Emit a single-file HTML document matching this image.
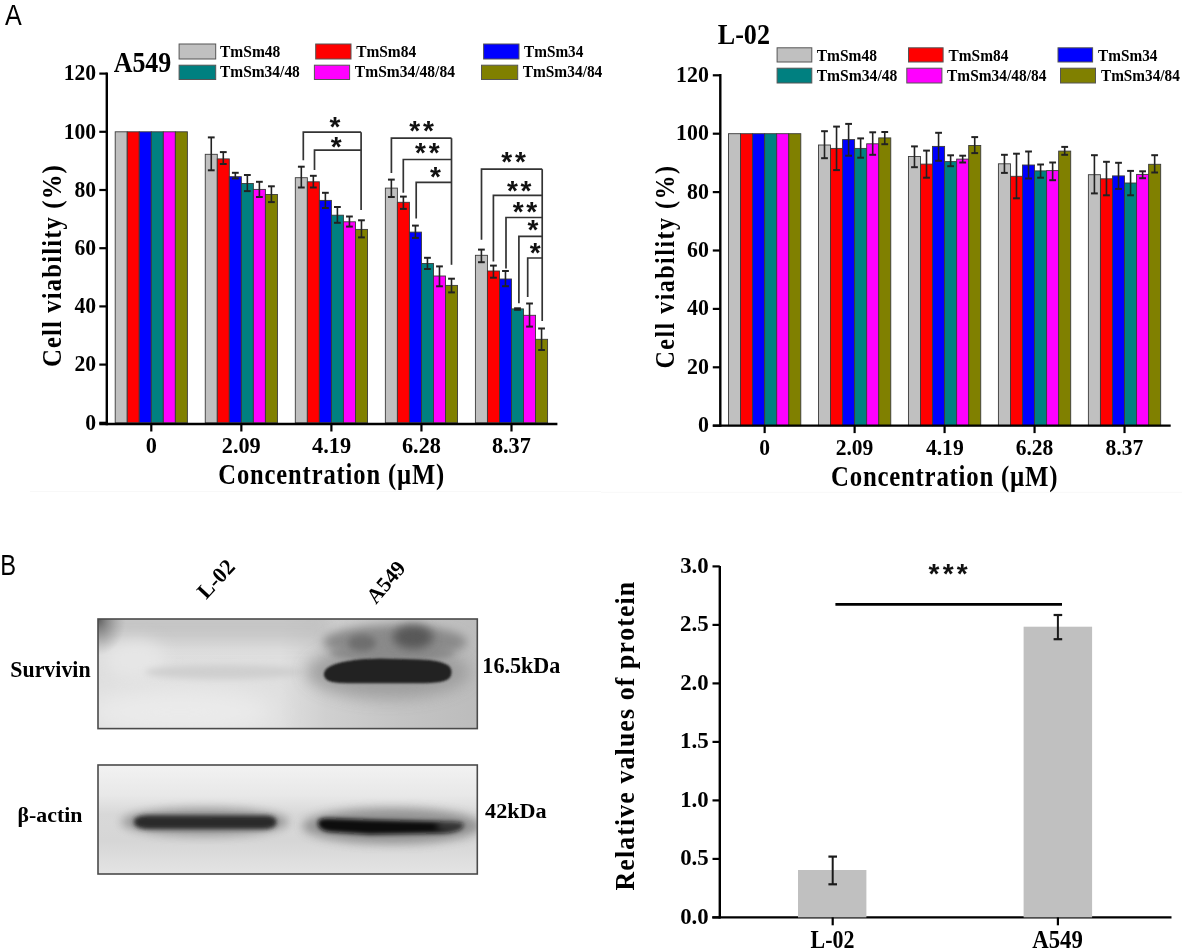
<!DOCTYPE html>
<html><head><meta charset="utf-8"><style>
html,body{margin:0;padding:0;background:#fff;width:1182px;height:950px;overflow:hidden}
svg{display:block;will-change:transform}
text{font-kerning:none}
</style></head><body>
<svg width="1182" height="950" viewBox="0 0 1182 950">
<rect width="1182" height="950" fill="#fff"/>

<defs>
 <filter id="f1" x="-50%" y="-50%" width="200%" height="200%"><feGaussianBlur stdDeviation="1.3"/></filter>
 <filter id="f2" x="-50%" y="-50%" width="200%" height="200%"><feGaussianBlur stdDeviation="2"/></filter>
 <linearGradient id="gb" x1="318" y1="0" x2="464" y2="0" gradientUnits="userSpaceOnUse"><stop offset="0" stop-color="#0a0a0a"/><stop offset="0.6" stop-color="#0d0d0d"/><stop offset="1" stop-color="#333"/></linearGradient>
 <radialGradient id="rg" cx="98" cy="619" r="28" gradientUnits="userSpaceOnUse" gradientTransform="translate(98 619) scale(1 1.3) translate(-98 -619)"><stop offset="0" stop-color="#555" stop-opacity="0.95"/><stop offset="0.5" stop-color="#777" stop-opacity="0.5"/><stop offset="1" stop-color="#999" stop-opacity="0"/></radialGradient>
 <filter id="f3" x="-50%" y="-50%" width="200%" height="200%"><feGaussianBlur stdDeviation="3"/></filter>
 <filter id="f5" x="-50%" y="-50%" width="200%" height="200%"><feGaussianBlur stdDeviation="5"/></filter>
 <filter id="f8" x="-50%" y="-50%" width="200%" height="200%"><feGaussianBlur stdDeviation="8"/></filter>
 <filter id="f12" x="-50%" y="-50%" width="200%" height="200%"><feGaussianBlur stdDeviation="12"/></filter>
 <clipPath id="c1"><rect x="98" y="619" width="379.3" height="109.6"/></clipPath>
 <clipPath id="c2"><rect x="98" y="765" width="379.3" height="109"/></clipPath>
 <linearGradient id="g1" x1="98" y1="0" x2="477" y2="0" gradientUnits="userSpaceOnUse">
  <stop offset="0" stop-color="#dedede"/><stop offset="0.48" stop-color="#dfdfdf"/><stop offset="0.6" stop-color="#d0d0d0"/><stop offset="0.8" stop-color="#c4c4c4"/><stop offset="1" stop-color="#bcbcbc"/>
 </linearGradient>
 <linearGradient id="g2" x1="0" y1="765" x2="0" y2="874" gradientUnits="userSpaceOnUse">
  <stop offset="0" stop-color="#f2f2f2"/><stop offset="0.28" stop-color="#e8e8e8"/><stop offset="0.45" stop-color="#d8d8d8"/><stop offset="0.7" stop-color="#d6d6d6"/><stop offset="0.85" stop-color="#dddddd"/><stop offset="1" stop-color="#e4e4e4"/>
 </linearGradient>
</defs>
<g clip-path="url(#c1)">
 <rect x="98" y="619" width="380" height="110" fill="url(#g1)"/>
 <rect x="90" y="608" width="240" height="34" fill="#bdbdbd" opacity="0.75" filter="url(#f8)"/>
 <ellipse cx="180" cy="712" rx="95" ry="24" fill="#ebebeb" filter="url(#f12)"/>
 <ellipse cx="135" cy="660" rx="30" ry="20" fill="#e6e6e6" filter="url(#f8)"/>
 <rect x="98" y="619" width="34" height="40" fill="url(#rg)"/>
 <ellipse cx="225" cy="672" rx="80" ry="7" fill="#cfcfcf" filter="url(#f3)"/>
 <ellipse cx="388" cy="672" rx="82" ry="27" fill="#989898" opacity="0.85" filter="url(#f8)"/>
 <ellipse cx="395" cy="642" rx="72" ry="17" fill="#8a8a8a" filter="url(#f5)"/>
 <ellipse cx="392" cy="653" rx="62" ry="7" fill="#8a8a8a" filter="url(#f3)"/>
 <ellipse cx="362" cy="643" rx="14" ry="8" fill="#6e6e6e" filter="url(#f3)"/>
 <ellipse cx="413" cy="637" rx="20" ry="12" fill="#585858" filter="url(#f5)"/>
 <path d="M324,674 C324,665 345,659 380,658.5 L420,659.5 C441,660.5 451.5,664 451.5,672 C451.5,680 445,683.2 420,683.2 L350,683.2 C331,683.2 324,681 324,674 Z" fill="#202020" filter="url(#f1)"/>
</g>
<rect x="98" y="619" width="379.3" height="109.6" fill="none" stroke="#4a4a4a" stroke-width="1.6"/>
<g clip-path="url(#c2)">
 <rect x="98" y="765" width="380" height="110" fill="url(#g2)"/>
 <ellipse cx="205" cy="822" rx="84" ry="14" fill="#8c8c8c" opacity="0.85" filter="url(#f5)"/>
 <ellipse cx="392" cy="826" rx="90" ry="18" fill="#888" opacity="0.85" filter="url(#f5)"/>
 <path d="M134,822 C134,816.5 141,815.3 151,815.3 L264,815.5 C273,815.5 276.5,818 276.5,822 C276.5,827 272,829.3 261,829.3 L151,829.3 C140,829.3 134,827 134,822 Z" fill="#2a2a2a" filter="url(#f2)"/>
 <path d="M318,823 C318,819 321,818.2 329,818.2 L370,819.8 L440,821.6 C457,822 463.5,822.5 463.5,825 C463.5,830 454,832.8 440,833.2 L370,834.4 L331,832 C322,831 318,828 318,823 Z" fill="#0e0e0e" filter="url(#f2)"/>
 <ellipse cx="452" cy="826" rx="16" ry="6" fill="#888" opacity="0.35" filter="url(#f3)"/>
</g>
<rect x="98" y="765" width="379.3" height="109" fill="none" stroke="#4a4a4a" stroke-width="1.6"/>

<line x1="30" y1="491.4" x2="601" y2="491.4" stroke="#f8f8f8" stroke-width="1"/>
<line x1="601" y1="492.3" x2="1182" y2="492.3" stroke="#f8f8f8" stroke-width="1"/>
<text transform="translate(5.00,24.80) scale(0.8747,1)" font-size="28.71" font-family="Liberation Sans, sans-serif" fill="#000">A</text>
<text transform="translate(0.16,574.90) scale(0.8226,1)" font-size="28.78" font-family="Liberation Sans, sans-serif" fill="#000">B</text>
<rect x="115.20" y="131.80" width="12.03" height="291.00" fill="#c0c0c0" stroke="#3a3a3a" stroke-width="0.9"/>
<rect x="127.23" y="131.80" width="12.03" height="291.00" fill="#ff0000" stroke="#3a3a3a" stroke-width="0.9"/>
<rect x="139.26" y="131.80" width="12.03" height="291.00" fill="#0000ff" stroke="#3a3a3a" stroke-width="0.9"/>
<rect x="151.29" y="131.80" width="12.03" height="291.00" fill="#008080" stroke="#3a3a3a" stroke-width="0.9"/>
<rect x="163.32" y="131.80" width="12.03" height="291.00" fill="#ff00ff" stroke="#3a3a3a" stroke-width="0.9"/>
<rect x="175.35" y="131.80" width="12.03" height="291.00" fill="#808000" stroke="#3a3a3a" stroke-width="0.9"/>
<rect x="205.25" y="154.30" width="12.03" height="268.50" fill="#c0c0c0" stroke="#3a3a3a" stroke-width="0.9"/>
<rect x="217.28" y="158.90" width="12.03" height="263.90" fill="#ff0000" stroke="#3a3a3a" stroke-width="0.9"/>
<rect x="229.31" y="176.70" width="12.03" height="246.10" fill="#0000ff" stroke="#3a3a3a" stroke-width="0.9"/>
<rect x="241.34" y="183.50" width="12.03" height="239.30" fill="#008080" stroke="#3a3a3a" stroke-width="0.9"/>
<rect x="253.37" y="189.40" width="12.03" height="233.40" fill="#ff00ff" stroke="#3a3a3a" stroke-width="0.9"/>
<rect x="265.40" y="194.50" width="12.03" height="228.30" fill="#808000" stroke="#3a3a3a" stroke-width="0.9"/>
<rect x="295.30" y="177.70" width="12.03" height="245.10" fill="#c0c0c0" stroke="#3a3a3a" stroke-width="0.9"/>
<rect x="307.33" y="181.80" width="12.03" height="241.00" fill="#ff0000" stroke="#3a3a3a" stroke-width="0.9"/>
<rect x="319.36" y="200.40" width="12.03" height="222.40" fill="#0000ff" stroke="#3a3a3a" stroke-width="0.9"/>
<rect x="331.39" y="215.20" width="12.03" height="207.60" fill="#008080" stroke="#3a3a3a" stroke-width="0.9"/>
<rect x="343.42" y="221.80" width="12.03" height="201.00" fill="#ff00ff" stroke="#3a3a3a" stroke-width="0.9"/>
<rect x="355.45" y="229.40" width="12.03" height="193.40" fill="#808000" stroke="#3a3a3a" stroke-width="0.9"/>
<rect x="385.35" y="188.10" width="12.03" height="234.70" fill="#c0c0c0" stroke="#3a3a3a" stroke-width="0.9"/>
<rect x="397.38" y="202.30" width="12.03" height="220.50" fill="#ff0000" stroke="#3a3a3a" stroke-width="0.9"/>
<rect x="409.41" y="232.10" width="12.03" height="190.70" fill="#0000ff" stroke="#3a3a3a" stroke-width="0.9"/>
<rect x="421.44" y="263.50" width="12.03" height="159.30" fill="#008080" stroke="#3a3a3a" stroke-width="0.9"/>
<rect x="433.47" y="276.00" width="12.03" height="146.80" fill="#ff00ff" stroke="#3a3a3a" stroke-width="0.9"/>
<rect x="445.50" y="285.40" width="12.03" height="137.40" fill="#808000" stroke="#3a3a3a" stroke-width="0.9"/>
<rect x="475.40" y="255.30" width="12.03" height="167.50" fill="#c0c0c0" stroke="#3a3a3a" stroke-width="0.9"/>
<rect x="487.43" y="271.00" width="12.03" height="151.80" fill="#ff0000" stroke="#3a3a3a" stroke-width="0.9"/>
<rect x="499.46" y="279.00" width="12.03" height="143.80" fill="#0000ff" stroke="#3a3a3a" stroke-width="0.9"/>
<rect x="511.49" y="308.90" width="12.03" height="113.90" fill="#008080" stroke="#3a3a3a" stroke-width="0.9"/>
<rect x="523.52" y="315.30" width="12.03" height="107.50" fill="#ff00ff" stroke="#3a3a3a" stroke-width="0.9"/>
<rect x="535.55" y="339.30" width="12.03" height="83.50" fill="#808000" stroke="#3a3a3a" stroke-width="0.9"/>
<line x1="211.26" y1="137.40" x2="211.26" y2="170.30" stroke="#222" stroke-width="1.6" stroke-linecap="butt"/>
<line x1="207.86" y1="137.40" x2="214.66" y2="137.40" stroke="#222" stroke-width="2.0" stroke-linecap="butt"/>
<line x1="207.86" y1="170.30" x2="214.66" y2="170.30" stroke="#222" stroke-width="2.0" stroke-linecap="butt"/>
<line x1="223.29" y1="152.10" x2="223.29" y2="164.00" stroke="#222" stroke-width="1.6" stroke-linecap="butt"/>
<line x1="219.89" y1="152.10" x2="226.69" y2="152.10" stroke="#222" stroke-width="2.0" stroke-linecap="butt"/>
<line x1="219.89" y1="164.00" x2="226.69" y2="164.00" stroke="#222" stroke-width="2.0" stroke-linecap="butt"/>
<line x1="235.32" y1="172.80" x2="235.32" y2="178.40" stroke="#222" stroke-width="1.6" stroke-linecap="butt"/>
<line x1="231.92" y1="172.80" x2="238.72" y2="172.80" stroke="#222" stroke-width="2.0" stroke-linecap="butt"/>
<line x1="231.92" y1="178.40" x2="238.72" y2="178.40" stroke="#222" stroke-width="2.0" stroke-linecap="butt"/>
<line x1="247.35" y1="175.00" x2="247.35" y2="191.10" stroke="#222" stroke-width="1.6" stroke-linecap="butt"/>
<line x1="243.95" y1="175.00" x2="250.75" y2="175.00" stroke="#222" stroke-width="2.0" stroke-linecap="butt"/>
<line x1="243.95" y1="191.10" x2="250.75" y2="191.10" stroke="#222" stroke-width="2.0" stroke-linecap="butt"/>
<line x1="259.38" y1="181.80" x2="259.38" y2="197.00" stroke="#222" stroke-width="1.6" stroke-linecap="butt"/>
<line x1="255.98" y1="181.80" x2="262.78" y2="181.80" stroke="#222" stroke-width="2.0" stroke-linecap="butt"/>
<line x1="255.98" y1="197.00" x2="262.78" y2="197.00" stroke="#222" stroke-width="2.0" stroke-linecap="butt"/>
<line x1="271.41" y1="186.30" x2="271.41" y2="202.10" stroke="#222" stroke-width="1.6" stroke-linecap="butt"/>
<line x1="268.01" y1="186.30" x2="274.81" y2="186.30" stroke="#222" stroke-width="2.0" stroke-linecap="butt"/>
<line x1="268.01" y1="202.10" x2="274.81" y2="202.10" stroke="#222" stroke-width="2.0" stroke-linecap="butt"/>
<line x1="301.31" y1="166.70" x2="301.31" y2="187.50" stroke="#222" stroke-width="1.6" stroke-linecap="butt"/>
<line x1="297.92" y1="166.70" x2="304.71" y2="166.70" stroke="#222" stroke-width="2.0" stroke-linecap="butt"/>
<line x1="297.92" y1="187.50" x2="304.71" y2="187.50" stroke="#222" stroke-width="2.0" stroke-linecap="butt"/>
<line x1="313.34" y1="175.80" x2="313.34" y2="187.50" stroke="#222" stroke-width="1.6" stroke-linecap="butt"/>
<line x1="309.94" y1="175.80" x2="316.74" y2="175.80" stroke="#222" stroke-width="2.0" stroke-linecap="butt"/>
<line x1="309.94" y1="187.50" x2="316.74" y2="187.50" stroke="#222" stroke-width="2.0" stroke-linecap="butt"/>
<line x1="325.38" y1="192.80" x2="325.38" y2="208.00" stroke="#222" stroke-width="1.6" stroke-linecap="butt"/>
<line x1="321.98" y1="192.80" x2="328.77" y2="192.80" stroke="#222" stroke-width="2.0" stroke-linecap="butt"/>
<line x1="321.98" y1="208.00" x2="328.77" y2="208.00" stroke="#222" stroke-width="2.0" stroke-linecap="butt"/>
<line x1="337.40" y1="207.00" x2="337.40" y2="222.80" stroke="#222" stroke-width="1.6" stroke-linecap="butt"/>
<line x1="334.00" y1="207.00" x2="340.80" y2="207.00" stroke="#222" stroke-width="2.0" stroke-linecap="butt"/>
<line x1="334.00" y1="222.80" x2="340.80" y2="222.80" stroke="#222" stroke-width="2.0" stroke-linecap="butt"/>
<line x1="349.44" y1="216.50" x2="349.44" y2="226.60" stroke="#222" stroke-width="1.6" stroke-linecap="butt"/>
<line x1="346.04" y1="216.50" x2="352.83" y2="216.50" stroke="#222" stroke-width="2.0" stroke-linecap="butt"/>
<line x1="346.04" y1="226.60" x2="352.83" y2="226.60" stroke="#222" stroke-width="2.0" stroke-linecap="butt"/>
<line x1="361.46" y1="220.30" x2="361.46" y2="237.40" stroke="#222" stroke-width="1.6" stroke-linecap="butt"/>
<line x1="358.06" y1="220.30" x2="364.86" y2="220.30" stroke="#222" stroke-width="2.0" stroke-linecap="butt"/>
<line x1="358.06" y1="237.40" x2="364.86" y2="237.40" stroke="#222" stroke-width="2.0" stroke-linecap="butt"/>
<line x1="391.36" y1="179.60" x2="391.36" y2="197.00" stroke="#222" stroke-width="1.6" stroke-linecap="butt"/>
<line x1="387.96" y1="179.60" x2="394.76" y2="179.60" stroke="#222" stroke-width="2.0" stroke-linecap="butt"/>
<line x1="387.96" y1="197.00" x2="394.76" y2="197.00" stroke="#222" stroke-width="2.0" stroke-linecap="butt"/>
<line x1="403.39" y1="196.60" x2="403.39" y2="208.90" stroke="#222" stroke-width="1.6" stroke-linecap="butt"/>
<line x1="399.99" y1="196.60" x2="406.79" y2="196.60" stroke="#222" stroke-width="2.0" stroke-linecap="butt"/>
<line x1="399.99" y1="208.90" x2="406.79" y2="208.90" stroke="#222" stroke-width="2.0" stroke-linecap="butt"/>
<line x1="415.42" y1="225.60" x2="415.42" y2="237.90" stroke="#222" stroke-width="1.6" stroke-linecap="butt"/>
<line x1="412.02" y1="225.60" x2="418.82" y2="225.60" stroke="#222" stroke-width="2.0" stroke-linecap="butt"/>
<line x1="412.02" y1="237.90" x2="418.82" y2="237.90" stroke="#222" stroke-width="2.0" stroke-linecap="butt"/>
<line x1="427.45" y1="257.80" x2="427.45" y2="269.00" stroke="#222" stroke-width="1.6" stroke-linecap="butt"/>
<line x1="424.05" y1="257.80" x2="430.85" y2="257.80" stroke="#222" stroke-width="2.0" stroke-linecap="butt"/>
<line x1="424.05" y1="269.00" x2="430.85" y2="269.00" stroke="#222" stroke-width="2.0" stroke-linecap="butt"/>
<line x1="439.48" y1="266.40" x2="439.48" y2="286.30" stroke="#222" stroke-width="1.6" stroke-linecap="butt"/>
<line x1="436.08" y1="266.40" x2="442.88" y2="266.40" stroke="#222" stroke-width="2.0" stroke-linecap="butt"/>
<line x1="436.08" y1="286.30" x2="442.88" y2="286.30" stroke="#222" stroke-width="2.0" stroke-linecap="butt"/>
<line x1="451.51" y1="278.70" x2="451.51" y2="292.40" stroke="#222" stroke-width="1.6" stroke-linecap="butt"/>
<line x1="448.11" y1="278.70" x2="454.91" y2="278.70" stroke="#222" stroke-width="2.0" stroke-linecap="butt"/>
<line x1="448.11" y1="292.40" x2="454.91" y2="292.40" stroke="#222" stroke-width="2.0" stroke-linecap="butt"/>
<line x1="481.41" y1="249.60" x2="481.41" y2="262.20" stroke="#222" stroke-width="1.6" stroke-linecap="butt"/>
<line x1="478.01" y1="249.60" x2="484.81" y2="249.60" stroke="#222" stroke-width="2.0" stroke-linecap="butt"/>
<line x1="478.01" y1="262.20" x2="484.81" y2="262.20" stroke="#222" stroke-width="2.0" stroke-linecap="butt"/>
<line x1="493.44" y1="265.60" x2="493.44" y2="277.70" stroke="#222" stroke-width="1.6" stroke-linecap="butt"/>
<line x1="490.04" y1="265.60" x2="496.84" y2="265.60" stroke="#222" stroke-width="2.0" stroke-linecap="butt"/>
<line x1="490.04" y1="277.70" x2="496.84" y2="277.70" stroke="#222" stroke-width="2.0" stroke-linecap="butt"/>
<line x1="505.47" y1="271.00" x2="505.47" y2="286.20" stroke="#222" stroke-width="1.6" stroke-linecap="butt"/>
<line x1="502.07" y1="271.00" x2="508.87" y2="271.00" stroke="#222" stroke-width="2.0" stroke-linecap="butt"/>
<line x1="502.07" y1="286.20" x2="508.87" y2="286.20" stroke="#222" stroke-width="2.0" stroke-linecap="butt"/>
<line x1="517.50" y1="308.30" x2="517.50" y2="309.80" stroke="#222" stroke-width="1.6" stroke-linecap="butt"/>
<line x1="514.11" y1="308.30" x2="520.90" y2="308.30" stroke="#222" stroke-width="2.0" stroke-linecap="butt"/>
<line x1="514.11" y1="309.80" x2="520.90" y2="309.80" stroke="#222" stroke-width="2.0" stroke-linecap="butt"/>
<line x1="529.53" y1="303.50" x2="529.53" y2="326.60" stroke="#222" stroke-width="1.6" stroke-linecap="butt"/>
<line x1="526.13" y1="303.50" x2="532.93" y2="303.50" stroke="#222" stroke-width="2.0" stroke-linecap="butt"/>
<line x1="526.13" y1="326.60" x2="532.93" y2="326.60" stroke="#222" stroke-width="2.0" stroke-linecap="butt"/>
<line x1="541.56" y1="328.50" x2="541.56" y2="350.00" stroke="#222" stroke-width="1.6" stroke-linecap="butt"/>
<line x1="538.16" y1="328.50" x2="544.96" y2="328.50" stroke="#222" stroke-width="2.0" stroke-linecap="butt"/>
<line x1="538.16" y1="350.00" x2="544.96" y2="350.00" stroke="#222" stroke-width="2.0" stroke-linecap="butt"/>
<line x1="106.80" y1="72.60" x2="106.80" y2="425.20" stroke="#000" stroke-width="2.4" stroke-linecap="butt"/>
<line x1="99.30" y1="424.00" x2="557.40" y2="424.00" stroke="#000" stroke-width="2.4" stroke-linecap="butt"/>
<line x1="99.30" y1="422.80" x2="106.80" y2="422.80" stroke="#000" stroke-width="2.2" stroke-linecap="butt"/>
<line x1="99.30" y1="364.60" x2="106.80" y2="364.60" stroke="#000" stroke-width="2.2" stroke-linecap="butt"/>
<line x1="99.30" y1="306.40" x2="106.80" y2="306.40" stroke="#000" stroke-width="2.2" stroke-linecap="butt"/>
<line x1="99.30" y1="248.20" x2="106.80" y2="248.20" stroke="#000" stroke-width="2.2" stroke-linecap="butt"/>
<line x1="99.30" y1="190.00" x2="106.80" y2="190.00" stroke="#000" stroke-width="2.2" stroke-linecap="butt"/>
<line x1="99.30" y1="131.80" x2="106.80" y2="131.80" stroke="#000" stroke-width="2.2" stroke-linecap="butt"/>
<line x1="99.30" y1="73.60" x2="106.80" y2="73.60" stroke="#000" stroke-width="2.2" stroke-linecap="butt"/>
<line x1="151.29" y1="424.00" x2="151.29" y2="431.50" stroke="#000" stroke-width="2.2" stroke-linecap="butt"/>
<line x1="241.34" y1="424.00" x2="241.34" y2="431.50" stroke="#000" stroke-width="2.2" stroke-linecap="butt"/>
<line x1="331.39" y1="424.00" x2="331.39" y2="431.50" stroke="#000" stroke-width="2.2" stroke-linecap="butt"/>
<line x1="421.44" y1="424.00" x2="421.44" y2="431.50" stroke="#000" stroke-width="2.2" stroke-linecap="butt"/>
<line x1="511.49" y1="424.00" x2="511.49" y2="431.50" stroke="#000" stroke-width="2.2" stroke-linecap="butt"/>
<text transform="translate(85.30,429.65) scale(0.9700,1)" font-size="22.33" font-family="Liberation Serif, serif" font-weight="bold" fill="#000">0</text>
<text transform="translate(74.47,371.45) scale(0.9700,1)" font-size="22.33" font-family="Liberation Serif, serif" font-weight="bold" fill="#000">20</text>
<text transform="translate(74.47,313.25) scale(0.9700,1)" font-size="22.33" font-family="Liberation Serif, serif" font-weight="bold" fill="#000">40</text>
<text transform="translate(74.47,255.05) scale(0.9700,1)" font-size="22.33" font-family="Liberation Serif, serif" font-weight="bold" fill="#000">60</text>
<text transform="translate(74.47,196.85) scale(0.9700,1)" font-size="22.33" font-family="Liberation Serif, serif" font-weight="bold" fill="#000">80</text>
<text transform="translate(63.64,138.65) scale(0.9700,1)" font-size="22.33" font-family="Liberation Serif, serif" font-weight="bold" fill="#000">100</text>
<text transform="translate(63.64,80.45) scale(0.9700,1)" font-size="22.33" font-family="Liberation Serif, serif" font-weight="bold" fill="#000">120</text>
<text transform="translate(145.72,453.00) scale(0.9750,1)" font-size="22.86" font-family="Liberation Serif, serif" font-weight="bold" fill="#000">0</text>
<text transform="translate(221.78,453.00) scale(0.9750,1)" font-size="22.86" font-family="Liberation Serif, serif" font-weight="bold" fill="#000">2.09</text>
<text transform="translate(312.06,453.00) scale(0.9750,1)" font-size="22.96" font-family="Liberation Serif, serif" font-weight="bold" fill="#000">4.19</text>
<text transform="translate(401.93,453.00) scale(0.9750,1)" font-size="22.86" font-family="Liberation Serif, serif" font-weight="bold" fill="#000">6.28</text>
<text transform="translate(491.89,453.00) scale(0.9750,1)" font-size="22.86" font-family="Liberation Serif, serif" font-weight="bold" fill="#000">8.37</text>
<text transform="translate(218.30,484.10) scale(0.8600,1)" font-size="28.55" font-family="Liberation Serif, serif" font-weight="bold" fill="#000" letter-spacing="1.017">Concentration (µM)</text>
<text transform="translate(61.20,367.01) rotate(-90) scale(0.8800,1)" font-size="28.10" font-family="Liberation Serif, serif" font-weight="bold" letter-spacing="1.285">Cell viability (%)</text>
<text transform="translate(113.65,71.80) scale(0.9095,1)" font-size="28.55" font-family="Liberation Serif, serif" font-weight="bold" fill="#000">A549</text>
<rect x="179.10" y="44.00" width="36.60" height="15.00" fill="#c0c0c0" stroke="#555" stroke-width="1.0"/>
<text transform="translate(219.96,56.80) scale(0.9314,1)" font-size="16.69" font-family="Liberation Serif, serif" font-weight="bold" fill="#000">TmSm48</text>
<rect x="315.70" y="44.00" width="35.30" height="15.00" fill="#ff0000" stroke="#555" stroke-width="1.0"/>
<text transform="translate(356.16,56.80) scale(0.9247,1)" font-size="16.69" font-family="Liberation Serif, serif" font-weight="bold" fill="#000">TmSm84</text>
<rect x="483.60" y="44.00" width="35.40" height="15.00" fill="#0000ff" stroke="#555" stroke-width="1.0"/>
<text transform="translate(523.96,56.80) scale(0.9129,1)" font-size="16.76" font-family="Liberation Serif, serif" font-weight="bold" fill="#000">TmSm34</text>
<rect x="179.10" y="65.20" width="36.60" height="14.30" fill="#008080" stroke="#555" stroke-width="1.0"/>
<text transform="translate(219.96,77.40) scale(0.9107,1)" font-size="16.99" font-family="Liberation Serif, serif" font-weight="bold" fill="#000">TmSm34/48</text>
<rect x="314.40" y="65.20" width="35.20" height="14.30" fill="#ff00ff" stroke="#555" stroke-width="1.0"/>
<text transform="translate(354.86,77.40) scale(0.9144,1)" font-size="16.99" font-family="Liberation Serif, serif" font-weight="bold" fill="#000">TmSm34/48/84</text>
<rect x="481.50" y="65.20" width="36.20" height="14.30" fill="#808000" stroke="#555" stroke-width="1.0"/>
<text transform="translate(522.66,77.40) scale(0.9081,1)" font-size="16.99" font-family="Liberation Serif, serif" font-weight="bold" fill="#000">TmSm34/84</text>
<polyline points="303.30,160.20 303.30,132.20 361.10,132.20" fill="none" stroke="#333" stroke-width="1.7"/>
<polyline points="314.50,170.10 314.50,150.20 361.10,150.20" fill="none" stroke="#333" stroke-width="1.7"/>
<line x1="361.10" y1="132.20" x2="361.10" y2="209.90" stroke="#333" stroke-width="1.7" stroke-linecap="butt"/>
<text x="329.52" y="135.85" font-size="28.0" font-family="Liberation Sans, sans-serif" font-weight="bold" fill="#111">*</text>
<text x="330.82" y="155.75" font-size="28.0" font-family="Liberation Sans, sans-serif" font-weight="bold" fill="#111">*</text>
<polyline points="391.40,172.90 391.40,138.20 451.50,138.20" fill="none" stroke="#333" stroke-width="1.7"/>
<polyline points="403.30,192.80 403.30,159.50 451.50,159.50" fill="none" stroke="#333" stroke-width="1.7"/>
<polyline points="416.20,218.40 416.20,182.30 451.50,182.30" fill="none" stroke="#333" stroke-width="1.7"/>
<line x1="451.50" y1="138.20" x2="451.50" y2="264.80" stroke="#333" stroke-width="1.7" stroke-linecap="butt"/>
<text x="409.22" y="140.05" font-size="28.0" font-family="Liberation Sans, sans-serif" font-weight="bold" fill="#111">*</text>
<text x="422.92" y="140.05" font-size="28.0" font-family="Liberation Sans, sans-serif" font-weight="bold" fill="#111">*</text>
<text x="415.12" y="161.85" font-size="28.0" font-family="Liberation Sans, sans-serif" font-weight="bold" fill="#111">*</text>
<text x="428.82" y="161.85" font-size="28.0" font-family="Liberation Sans, sans-serif" font-weight="bold" fill="#111">*</text>
<text x="429.92" y="186.15" font-size="28.0" font-family="Liberation Sans, sans-serif" font-weight="bold" fill="#111">*</text>
<polyline points="481.50,239.70 481.50,169.20 542.20,169.20" fill="none" stroke="#333" stroke-width="1.7"/>
<polyline points="493.40,261.60 493.40,195.40 542.20,195.40" fill="none" stroke="#333" stroke-width="1.7"/>
<polyline points="506.00,268.50 506.00,217.50 542.20,217.50" fill="none" stroke="#333" stroke-width="1.7"/>
<polyline points="518.90,303.30 518.90,236.30 542.20,236.30" fill="none" stroke="#333" stroke-width="1.7"/>
<polyline points="527.70,297.00 527.70,258.00 542.20,258.00" fill="none" stroke="#333" stroke-width="1.7"/>
<line x1="542.20" y1="169.20" x2="542.20" y2="321.00" stroke="#333" stroke-width="1.7" stroke-linecap="butt"/>
<text x="501.32" y="171.05" font-size="28.0" font-family="Liberation Sans, sans-serif" font-weight="bold" fill="#111">*</text>
<text x="514.92" y="171.05" font-size="28.0" font-family="Liberation Sans, sans-serif" font-weight="bold" fill="#111">*</text>
<text x="507.02" y="199.65" font-size="28.0" font-family="Liberation Sans, sans-serif" font-weight="bold" fill="#111">*</text>
<text x="520.62" y="199.65" font-size="28.0" font-family="Liberation Sans, sans-serif" font-weight="bold" fill="#111">*</text>
<text x="512.72" y="221.45" font-size="28.0" font-family="Liberation Sans, sans-serif" font-weight="bold" fill="#111">*</text>
<text x="526.32" y="221.45" font-size="28.0" font-family="Liberation Sans, sans-serif" font-weight="bold" fill="#111">*</text>
<text x="527.62" y="239.15" font-size="28.0" font-family="Liberation Sans, sans-serif" font-weight="bold" fill="#111">*</text>
<text x="529.72" y="262.15" font-size="28.0" font-family="Liberation Sans, sans-serif" font-weight="bold" fill="#111">*</text>
<rect x="728.50" y="133.70" width="12.05" height="292.00" fill="#c0c0c0" stroke="#3a3a3a" stroke-width="0.9"/>
<rect x="740.55" y="133.70" width="12.05" height="292.00" fill="#ff0000" stroke="#3a3a3a" stroke-width="0.9"/>
<rect x="752.60" y="133.70" width="12.05" height="292.00" fill="#0000ff" stroke="#3a3a3a" stroke-width="0.9"/>
<rect x="764.65" y="133.70" width="12.05" height="292.00" fill="#008080" stroke="#3a3a3a" stroke-width="0.9"/>
<rect x="776.70" y="133.70" width="12.05" height="292.00" fill="#ff00ff" stroke="#3a3a3a" stroke-width="0.9"/>
<rect x="788.75" y="133.70" width="12.05" height="292.00" fill="#808000" stroke="#3a3a3a" stroke-width="0.9"/>
<rect x="818.47" y="145.00" width="12.05" height="280.70" fill="#c0c0c0" stroke="#3a3a3a" stroke-width="0.9"/>
<rect x="830.52" y="148.40" width="12.05" height="277.30" fill="#ff0000" stroke="#3a3a3a" stroke-width="0.9"/>
<rect x="842.57" y="139.60" width="12.05" height="286.10" fill="#0000ff" stroke="#3a3a3a" stroke-width="0.9"/>
<rect x="854.62" y="148.40" width="12.05" height="277.30" fill="#008080" stroke="#3a3a3a" stroke-width="0.9"/>
<rect x="866.67" y="143.80" width="12.05" height="281.90" fill="#ff00ff" stroke="#3a3a3a" stroke-width="0.9"/>
<rect x="878.72" y="137.90" width="12.05" height="287.80" fill="#808000" stroke="#3a3a3a" stroke-width="0.9"/>
<rect x="908.44" y="156.50" width="12.05" height="269.20" fill="#c0c0c0" stroke="#3a3a3a" stroke-width="0.9"/>
<rect x="920.49" y="164.10" width="12.05" height="261.60" fill="#ff0000" stroke="#3a3a3a" stroke-width="0.9"/>
<rect x="932.54" y="146.40" width="12.05" height="279.30" fill="#0000ff" stroke="#3a3a3a" stroke-width="0.9"/>
<rect x="944.59" y="161.60" width="12.05" height="264.10" fill="#008080" stroke="#3a3a3a" stroke-width="0.9"/>
<rect x="956.64" y="159.10" width="12.05" height="266.60" fill="#ff00ff" stroke="#3a3a3a" stroke-width="0.9"/>
<rect x="968.69" y="145.50" width="12.05" height="280.20" fill="#808000" stroke="#3a3a3a" stroke-width="0.9"/>
<rect x="998.41" y="163.80" width="12.05" height="261.90" fill="#c0c0c0" stroke="#3a3a3a" stroke-width="0.9"/>
<rect x="1010.46" y="176.30" width="12.05" height="249.40" fill="#ff0000" stroke="#3a3a3a" stroke-width="0.9"/>
<rect x="1022.51" y="165.00" width="12.05" height="260.70" fill="#0000ff" stroke="#3a3a3a" stroke-width="0.9"/>
<rect x="1034.56" y="170.90" width="12.05" height="254.80" fill="#008080" stroke="#3a3a3a" stroke-width="0.9"/>
<rect x="1046.61" y="170.60" width="12.05" height="255.10" fill="#ff00ff" stroke="#3a3a3a" stroke-width="0.9"/>
<rect x="1058.66" y="151.10" width="12.05" height="274.60" fill="#808000" stroke="#3a3a3a" stroke-width="0.9"/>
<rect x="1088.38" y="174.70" width="12.05" height="251.00" fill="#c0c0c0" stroke="#3a3a3a" stroke-width="0.9"/>
<rect x="1100.43" y="178.80" width="12.05" height="246.90" fill="#ff0000" stroke="#3a3a3a" stroke-width="0.9"/>
<rect x="1112.48" y="175.90" width="12.05" height="249.80" fill="#0000ff" stroke="#3a3a3a" stroke-width="0.9"/>
<rect x="1124.53" y="183.00" width="12.05" height="242.70" fill="#008080" stroke="#3a3a3a" stroke-width="0.9"/>
<rect x="1136.58" y="174.40" width="12.05" height="251.30" fill="#ff00ff" stroke="#3a3a3a" stroke-width="0.9"/>
<rect x="1148.63" y="164.30" width="12.05" height="261.40" fill="#808000" stroke="#3a3a3a" stroke-width="0.9"/>
<line x1="824.50" y1="131.20" x2="824.50" y2="158.20" stroke="#222" stroke-width="1.6" stroke-linecap="butt"/>
<line x1="821.10" y1="131.20" x2="827.89" y2="131.20" stroke="#222" stroke-width="2.0" stroke-linecap="butt"/>
<line x1="821.10" y1="158.20" x2="827.89" y2="158.20" stroke="#222" stroke-width="2.0" stroke-linecap="butt"/>
<line x1="836.54" y1="126.60" x2="836.54" y2="170.10" stroke="#222" stroke-width="1.6" stroke-linecap="butt"/>
<line x1="833.14" y1="126.60" x2="839.94" y2="126.60" stroke="#222" stroke-width="2.0" stroke-linecap="butt"/>
<line x1="833.14" y1="170.10" x2="839.94" y2="170.10" stroke="#222" stroke-width="2.0" stroke-linecap="butt"/>
<line x1="848.60" y1="123.90" x2="848.60" y2="155.70" stroke="#222" stroke-width="1.6" stroke-linecap="butt"/>
<line x1="845.20" y1="123.90" x2="852.00" y2="123.90" stroke="#222" stroke-width="2.0" stroke-linecap="butt"/>
<line x1="845.20" y1="155.70" x2="852.00" y2="155.70" stroke="#222" stroke-width="2.0" stroke-linecap="butt"/>
<line x1="860.64" y1="138.40" x2="860.64" y2="157.70" stroke="#222" stroke-width="1.6" stroke-linecap="butt"/>
<line x1="857.25" y1="138.40" x2="864.04" y2="138.40" stroke="#222" stroke-width="2.0" stroke-linecap="butt"/>
<line x1="857.25" y1="157.70" x2="864.04" y2="157.70" stroke="#222" stroke-width="2.0" stroke-linecap="butt"/>
<line x1="872.70" y1="132.30" x2="872.70" y2="154.80" stroke="#222" stroke-width="1.6" stroke-linecap="butt"/>
<line x1="869.30" y1="132.30" x2="876.10" y2="132.30" stroke="#222" stroke-width="2.0" stroke-linecap="butt"/>
<line x1="869.30" y1="154.80" x2="876.10" y2="154.80" stroke="#222" stroke-width="2.0" stroke-linecap="butt"/>
<line x1="884.75" y1="132.00" x2="884.75" y2="144.20" stroke="#222" stroke-width="1.6" stroke-linecap="butt"/>
<line x1="881.35" y1="132.00" x2="888.14" y2="132.00" stroke="#222" stroke-width="2.0" stroke-linecap="butt"/>
<line x1="881.35" y1="144.20" x2="888.14" y2="144.20" stroke="#222" stroke-width="2.0" stroke-linecap="butt"/>
<line x1="914.47" y1="146.40" x2="914.47" y2="167.20" stroke="#222" stroke-width="1.6" stroke-linecap="butt"/>
<line x1="911.07" y1="146.40" x2="917.87" y2="146.40" stroke="#222" stroke-width="2.0" stroke-linecap="butt"/>
<line x1="911.07" y1="167.20" x2="917.87" y2="167.20" stroke="#222" stroke-width="2.0" stroke-linecap="butt"/>
<line x1="926.51" y1="150.60" x2="926.51" y2="177.70" stroke="#222" stroke-width="1.6" stroke-linecap="butt"/>
<line x1="923.12" y1="150.60" x2="929.91" y2="150.60" stroke="#222" stroke-width="2.0" stroke-linecap="butt"/>
<line x1="923.12" y1="177.70" x2="929.91" y2="177.70" stroke="#222" stroke-width="2.0" stroke-linecap="butt"/>
<line x1="938.57" y1="132.80" x2="938.57" y2="160.80" stroke="#222" stroke-width="1.6" stroke-linecap="butt"/>
<line x1="935.17" y1="132.80" x2="941.97" y2="132.80" stroke="#222" stroke-width="2.0" stroke-linecap="butt"/>
<line x1="935.17" y1="160.80" x2="941.97" y2="160.80" stroke="#222" stroke-width="2.0" stroke-linecap="butt"/>
<line x1="950.62" y1="155.30" x2="950.62" y2="166.20" stroke="#222" stroke-width="1.6" stroke-linecap="butt"/>
<line x1="947.22" y1="155.30" x2="954.01" y2="155.30" stroke="#222" stroke-width="2.0" stroke-linecap="butt"/>
<line x1="947.22" y1="166.20" x2="954.01" y2="166.20" stroke="#222" stroke-width="2.0" stroke-linecap="butt"/>
<line x1="962.67" y1="155.70" x2="962.67" y2="162.50" stroke="#222" stroke-width="1.6" stroke-linecap="butt"/>
<line x1="959.27" y1="155.70" x2="966.07" y2="155.70" stroke="#222" stroke-width="2.0" stroke-linecap="butt"/>
<line x1="959.27" y1="162.50" x2="966.07" y2="162.50" stroke="#222" stroke-width="2.0" stroke-linecap="butt"/>
<line x1="974.72" y1="137.10" x2="974.72" y2="153.10" stroke="#222" stroke-width="1.6" stroke-linecap="butt"/>
<line x1="971.32" y1="137.10" x2="978.12" y2="137.10" stroke="#222" stroke-width="2.0" stroke-linecap="butt"/>
<line x1="971.32" y1="153.10" x2="978.12" y2="153.10" stroke="#222" stroke-width="2.0" stroke-linecap="butt"/>
<line x1="1004.43" y1="154.80" x2="1004.43" y2="172.90" stroke="#222" stroke-width="1.6" stroke-linecap="butt"/>
<line x1="1001.03" y1="154.80" x2="1007.83" y2="154.80" stroke="#222" stroke-width="2.0" stroke-linecap="butt"/>
<line x1="1001.03" y1="172.90" x2="1007.83" y2="172.90" stroke="#222" stroke-width="2.0" stroke-linecap="butt"/>
<line x1="1016.48" y1="153.70" x2="1016.48" y2="198.30" stroke="#222" stroke-width="1.6" stroke-linecap="butt"/>
<line x1="1013.08" y1="153.70" x2="1019.88" y2="153.70" stroke="#222" stroke-width="2.0" stroke-linecap="butt"/>
<line x1="1013.08" y1="198.30" x2="1019.88" y2="198.30" stroke="#222" stroke-width="2.0" stroke-linecap="butt"/>
<line x1="1028.54" y1="151.50" x2="1028.54" y2="178.50" stroke="#222" stroke-width="1.6" stroke-linecap="butt"/>
<line x1="1025.13" y1="151.50" x2="1031.94" y2="151.50" stroke="#222" stroke-width="2.0" stroke-linecap="butt"/>
<line x1="1025.13" y1="178.50" x2="1031.94" y2="178.50" stroke="#222" stroke-width="2.0" stroke-linecap="butt"/>
<line x1="1040.59" y1="164.50" x2="1040.59" y2="177.70" stroke="#222" stroke-width="1.6" stroke-linecap="butt"/>
<line x1="1037.18" y1="164.50" x2="1043.99" y2="164.50" stroke="#222" stroke-width="2.0" stroke-linecap="butt"/>
<line x1="1037.18" y1="177.70" x2="1043.99" y2="177.70" stroke="#222" stroke-width="2.0" stroke-linecap="butt"/>
<line x1="1052.63" y1="162.50" x2="1052.63" y2="180.20" stroke="#222" stroke-width="1.6" stroke-linecap="butt"/>
<line x1="1049.23" y1="162.50" x2="1056.04" y2="162.50" stroke="#222" stroke-width="2.0" stroke-linecap="butt"/>
<line x1="1049.23" y1="180.20" x2="1056.04" y2="180.20" stroke="#222" stroke-width="2.0" stroke-linecap="butt"/>
<line x1="1064.68" y1="146.90" x2="1064.68" y2="154.80" stroke="#222" stroke-width="1.6" stroke-linecap="butt"/>
<line x1="1061.28" y1="146.90" x2="1068.09" y2="146.90" stroke="#222" stroke-width="2.0" stroke-linecap="butt"/>
<line x1="1061.28" y1="154.80" x2="1068.09" y2="154.80" stroke="#222" stroke-width="2.0" stroke-linecap="butt"/>
<line x1="1094.41" y1="155.20" x2="1094.41" y2="193.40" stroke="#222" stroke-width="1.6" stroke-linecap="butt"/>
<line x1="1091.01" y1="155.20" x2="1097.81" y2="155.20" stroke="#222" stroke-width="2.0" stroke-linecap="butt"/>
<line x1="1091.01" y1="193.40" x2="1097.81" y2="193.40" stroke="#222" stroke-width="2.0" stroke-linecap="butt"/>
<line x1="1106.46" y1="161.80" x2="1106.46" y2="195.30" stroke="#222" stroke-width="1.6" stroke-linecap="butt"/>
<line x1="1103.06" y1="161.80" x2="1109.86" y2="161.80" stroke="#222" stroke-width="2.0" stroke-linecap="butt"/>
<line x1="1103.06" y1="195.30" x2="1109.86" y2="195.30" stroke="#222" stroke-width="2.0" stroke-linecap="butt"/>
<line x1="1118.51" y1="162.80" x2="1118.51" y2="188.90" stroke="#222" stroke-width="1.6" stroke-linecap="butt"/>
<line x1="1115.11" y1="162.80" x2="1121.91" y2="162.80" stroke="#222" stroke-width="2.0" stroke-linecap="butt"/>
<line x1="1115.11" y1="188.90" x2="1121.91" y2="188.90" stroke="#222" stroke-width="2.0" stroke-linecap="butt"/>
<line x1="1130.56" y1="170.90" x2="1130.56" y2="195.30" stroke="#222" stroke-width="1.6" stroke-linecap="butt"/>
<line x1="1127.16" y1="170.90" x2="1133.96" y2="170.90" stroke="#222" stroke-width="2.0" stroke-linecap="butt"/>
<line x1="1127.16" y1="195.30" x2="1133.96" y2="195.30" stroke="#222" stroke-width="2.0" stroke-linecap="butt"/>
<line x1="1142.61" y1="171.30" x2="1142.61" y2="178.20" stroke="#222" stroke-width="1.6" stroke-linecap="butt"/>
<line x1="1139.21" y1="171.30" x2="1146.01" y2="171.30" stroke="#222" stroke-width="2.0" stroke-linecap="butt"/>
<line x1="1139.21" y1="178.20" x2="1146.01" y2="178.20" stroke="#222" stroke-width="2.0" stroke-linecap="butt"/>
<line x1="1154.66" y1="155.20" x2="1154.66" y2="172.50" stroke="#222" stroke-width="1.6" stroke-linecap="butt"/>
<line x1="1151.26" y1="155.20" x2="1158.06" y2="155.20" stroke="#222" stroke-width="2.0" stroke-linecap="butt"/>
<line x1="1151.26" y1="172.50" x2="1158.06" y2="172.50" stroke="#222" stroke-width="2.0" stroke-linecap="butt"/>
<line x1="720.30" y1="74.00" x2="720.30" y2="426.80" stroke="#000" stroke-width="2.4" stroke-linecap="butt"/>
<line x1="712.80" y1="425.60" x2="1170.70" y2="425.60" stroke="#000" stroke-width="2.4" stroke-linecap="butt"/>
<line x1="712.80" y1="425.70" x2="720.30" y2="425.70" stroke="#000" stroke-width="2.2" stroke-linecap="butt"/>
<line x1="712.80" y1="367.30" x2="720.30" y2="367.30" stroke="#000" stroke-width="2.2" stroke-linecap="butt"/>
<line x1="712.80" y1="308.90" x2="720.30" y2="308.90" stroke="#000" stroke-width="2.2" stroke-linecap="butt"/>
<line x1="712.80" y1="250.50" x2="720.30" y2="250.50" stroke="#000" stroke-width="2.2" stroke-linecap="butt"/>
<line x1="712.80" y1="192.10" x2="720.30" y2="192.10" stroke="#000" stroke-width="2.2" stroke-linecap="butt"/>
<line x1="712.80" y1="133.70" x2="720.30" y2="133.70" stroke="#000" stroke-width="2.2" stroke-linecap="butt"/>
<line x1="712.80" y1="75.30" x2="720.30" y2="75.30" stroke="#000" stroke-width="2.2" stroke-linecap="butt"/>
<line x1="764.65" y1="425.60" x2="764.65" y2="433.10" stroke="#000" stroke-width="2.2" stroke-linecap="butt"/>
<line x1="854.62" y1="425.60" x2="854.62" y2="433.10" stroke="#000" stroke-width="2.2" stroke-linecap="butt"/>
<line x1="944.59" y1="425.60" x2="944.59" y2="433.10" stroke="#000" stroke-width="2.2" stroke-linecap="butt"/>
<line x1="1034.56" y1="425.60" x2="1034.56" y2="433.10" stroke="#000" stroke-width="2.2" stroke-linecap="butt"/>
<line x1="1124.53" y1="425.60" x2="1124.53" y2="433.10" stroke="#000" stroke-width="2.2" stroke-linecap="butt"/>
<text transform="translate(697.99,432.10) scale(0.9900,1)" font-size="22.10" font-family="Liberation Serif, serif" font-weight="bold" fill="#000">0</text>
<text transform="translate(687.05,373.70) scale(0.9900,1)" font-size="22.10" font-family="Liberation Serif, serif" font-weight="bold" fill="#000">20</text>
<text transform="translate(687.05,315.30) scale(0.9900,1)" font-size="22.10" font-family="Liberation Serif, serif" font-weight="bold" fill="#000">40</text>
<text transform="translate(687.05,256.90) scale(0.9900,1)" font-size="22.10" font-family="Liberation Serif, serif" font-weight="bold" fill="#000">60</text>
<text transform="translate(687.05,198.50) scale(0.9900,1)" font-size="22.10" font-family="Liberation Serif, serif" font-weight="bold" fill="#000">80</text>
<text transform="translate(676.11,140.10) scale(0.9900,1)" font-size="22.10" font-family="Liberation Serif, serif" font-weight="bold" fill="#000">100</text>
<text transform="translate(676.11,81.70) scale(0.9900,1)" font-size="22.10" font-family="Liberation Serif, serif" font-weight="bold" fill="#000">120</text>
<text transform="translate(759.26,454.60) scale(0.9750,1)" font-size="22.10" font-family="Liberation Serif, serif" font-weight="bold" fill="#000">0</text>
<text transform="translate(835.70,454.60) scale(0.9750,1)" font-size="22.10" font-family="Liberation Serif, serif" font-weight="bold" fill="#000">2.09</text>
<text transform="translate(925.89,454.60) scale(0.9750,1)" font-size="22.20" font-family="Liberation Serif, serif" font-weight="bold" fill="#000">4.19</text>
<text transform="translate(1015.69,454.60) scale(0.9750,1)" font-size="22.10" font-family="Liberation Serif, serif" font-weight="bold" fill="#000">6.28</text>
<text transform="translate(1105.58,454.60) scale(0.9750,1)" font-size="22.10" font-family="Liberation Serif, serif" font-weight="bold" fill="#000">8.37</text>
<text transform="translate(831.09,486.30) scale(0.8600,1)" font-size="28.85" font-family="Liberation Serif, serif" font-weight="bold" fill="#000" letter-spacing="0.893">Concentration (µM)</text>
<text transform="translate(673.80,368.57) rotate(-90) scale(0.8800,1)" font-size="27.34" font-family="Liberation Serif, serif" font-weight="bold" letter-spacing="1.656">Cell viability (%)</text>
<text transform="translate(717.75,44.40) scale(0.9148,1)" font-size="28.57" font-family="Liberation Serif, serif" font-weight="bold" fill="#000">L-02</text>
<rect x="777.10" y="47.80" width="34.70" height="14.20" fill="#c0c0c0" stroke="#555" stroke-width="1.0"/>
<text transform="translate(816.66,60.90) scale(0.9298,1)" font-size="16.69" font-family="Liberation Serif, serif" font-weight="bold" fill="#000">TmSm48</text>
<rect x="908.50" y="47.80" width="34.60" height="14.20" fill="#ff0000" stroke="#555" stroke-width="1.0"/>
<text transform="translate(948.56,60.90) scale(0.9216,1)" font-size="16.69" font-family="Liberation Serif, serif" font-weight="bold" fill="#000">TmSm84</text>
<rect x="1058.00" y="47.80" width="34.60" height="14.20" fill="#0000ff" stroke="#555" stroke-width="1.0"/>
<text transform="translate(1098.06,60.90) scale(0.9129,1)" font-size="16.76" font-family="Liberation Serif, serif" font-weight="bold" fill="#000">TmSm34</text>
<rect x="777.10" y="68.20" width="34.70" height="14.80" fill="#008080" stroke="#555" stroke-width="1.0"/>
<text transform="translate(816.66,81.40) scale(0.9625,1)" font-size="16.24" font-family="Liberation Serif, serif" font-weight="bold" fill="#000">TmSm34/48</text>
<rect x="906.80" y="68.20" width="35.10" height="14.80" fill="#ff00ff" stroke="#555" stroke-width="1.0"/>
<text transform="translate(947.06,81.40) scale(0.9490,1)" font-size="16.24" font-family="Liberation Serif, serif" font-weight="bold" fill="#000">TmSm34/48/84</text>
<rect x="1060.50" y="68.20" width="35.00" height="14.80" fill="#808000" stroke="#555" stroke-width="1.0"/>
<text transform="translate(1100.96,81.40) scale(0.9394,1)" font-size="16.24" font-family="Liberation Serif, serif" font-weight="bold" fill="#000">TmSm34/84</text>
<line x1="719.80" y1="566.00" x2="719.80" y2="918.60" stroke="#000" stroke-width="2.4" stroke-linecap="butt"/>
<line x1="712.20" y1="917.40" x2="1171.50" y2="917.40" stroke="#000" stroke-width="2.4" stroke-linecap="butt"/>
<line x1="712.50" y1="917.40" x2="719.80" y2="917.40" stroke="#000" stroke-width="2.2" stroke-linecap="butt"/>
<text transform="translate(680.19,923.90) scale(0.9650,1)" font-size="23.61" font-family="Liberation Serif, serif" font-weight="bold" fill="#000">0.0</text>
<line x1="712.50" y1="858.90" x2="719.80" y2="858.90" stroke="#000" stroke-width="2.2" stroke-linecap="butt"/>
<text transform="translate(680.16,865.40) scale(0.9650,1)" font-size="23.61" font-family="Liberation Serif, serif" font-weight="bold" fill="#000">0.5</text>
<line x1="712.50" y1="800.40" x2="719.80" y2="800.40" stroke="#000" stroke-width="2.2" stroke-linecap="butt"/>
<text transform="translate(680.19,806.90) scale(0.9650,1)" font-size="23.61" font-family="Liberation Serif, serif" font-weight="bold" fill="#000">1.0</text>
<line x1="712.50" y1="741.90" x2="719.80" y2="741.90" stroke="#000" stroke-width="2.2" stroke-linecap="butt"/>
<text transform="translate(679.95,748.40) scale(0.9650,1)" font-size="23.78" font-family="Liberation Serif, serif" font-weight="bold" fill="#000">1.5</text>
<line x1="712.50" y1="683.40" x2="719.80" y2="683.40" stroke="#000" stroke-width="2.2" stroke-linecap="butt"/>
<text transform="translate(680.19,689.90) scale(0.9650,1)" font-size="23.61" font-family="Liberation Serif, serif" font-weight="bold" fill="#000">2.0</text>
<line x1="712.50" y1="624.90" x2="719.80" y2="624.90" stroke="#000" stroke-width="2.2" stroke-linecap="butt"/>
<text transform="translate(680.04,631.40) scale(0.9650,1)" font-size="23.71" font-family="Liberation Serif, serif" font-weight="bold" fill="#000">2.5</text>
<line x1="712.50" y1="566.40" x2="719.80" y2="566.40" stroke="#000" stroke-width="2.2" stroke-linecap="butt"/>
<text transform="translate(680.19,572.90) scale(0.9650,1)" font-size="23.61" font-family="Liberation Serif, serif" font-weight="bold" fill="#000">3.0</text>
<rect x="798.00" y="870.00" width="68.40" height="47.40" fill="#c0c0c0"/>
<rect x="1023.60" y="626.70" width="68.50" height="290.70" fill="#c0c0c0"/>
<line x1="832.70" y1="856.60" x2="832.70" y2="884.30" stroke="#1a1a1a" stroke-width="2.0" stroke-linecap="butt"/>
<line x1="828.40" y1="856.60" x2="837.00" y2="856.60" stroke="#1a1a1a" stroke-width="2.2" stroke-linecap="butt"/>
<line x1="828.40" y1="884.30" x2="837.00" y2="884.30" stroke="#1a1a1a" stroke-width="2.2" stroke-linecap="butt"/>
<line x1="832.70" y1="917.40" x2="832.70" y2="925.30" stroke="#000" stroke-width="2.2" stroke-linecap="butt"/>
<line x1="1057.90" y1="615.00" x2="1057.90" y2="639.20" stroke="#1a1a1a" stroke-width="2.0" stroke-linecap="butt"/>
<line x1="1053.60" y1="615.00" x2="1062.20" y2="615.00" stroke="#1a1a1a" stroke-width="2.2" stroke-linecap="butt"/>
<line x1="1053.60" y1="639.20" x2="1062.20" y2="639.20" stroke="#1a1a1a" stroke-width="2.2" stroke-linecap="butt"/>
<line x1="1057.90" y1="917.40" x2="1057.90" y2="925.30" stroke="#000" stroke-width="2.2" stroke-linecap="butt"/>
<line x1="835.40" y1="604.30" x2="1062.00" y2="604.30" stroke="#000" stroke-width="2.8" stroke-linecap="butt"/>
<text transform="translate(810.62,948.10) scale(0.8959,1)" font-size="24.51" font-family="Liberation Serif, serif" font-weight="bold" fill="#000">L-02</text>
<text transform="translate(1032.28,948.10) scale(0.9239,1)" font-size="24.62" font-family="Liberation Serif, serif" font-weight="bold" fill="#000">A549</text>
<text transform="translate(633.90,890.44) rotate(-90) scale(0.9700,1)" font-size="26.56" font-family="Liberation Serif, serif" font-weight="bold" letter-spacing="1.192">Relative values of protein</text>
<text x="928.62" y="583.15" font-size="28.0" font-family="Liberation Sans, sans-serif" font-weight="bold" fill="#111">*</text>
<text x="942.72" y="583.15" font-size="28.0" font-family="Liberation Sans, sans-serif" font-weight="bold" fill="#111">*</text>
<text x="956.72" y="583.15" font-size="28.0" font-family="Liberation Sans, sans-serif" font-weight="bold" fill="#111">*</text>
<text transform="translate(10.33,676.60) scale(0.9493,1)" font-size="23.06" font-family="Liberation Serif, serif" font-weight="bold" fill="#000">Survivin</text>
<text transform="translate(17.56,822.30) scale(0.9919,1)" font-size="22.01" font-family="Liberation Serif, serif" font-weight="bold" fill="#000">β-actin</text>
<text transform="translate(482.33,673.20) scale(0.9309,1)" font-size="23.78" font-family="Liberation Serif, serif" font-weight="bold" fill="#000">16.5kDa</text>
<text transform="translate(485.10,818.00) scale(1.0331,1)" font-size="21.47" font-family="Liberation Serif, serif" font-weight="bold" fill="#000">42kDa</text>
<text transform="translate(206.30,600.00) rotate(-47) scale(1.0000,1)" font-size="22.00" font-family="Liberation Serif, serif" font-weight="bold">L-02</text>
<text transform="translate(376.00,605.00) rotate(-50) scale(1.0000,1)" font-size="21.50" font-family="Liberation Serif, serif" font-weight="bold">A549</text>
</svg></body></html>
